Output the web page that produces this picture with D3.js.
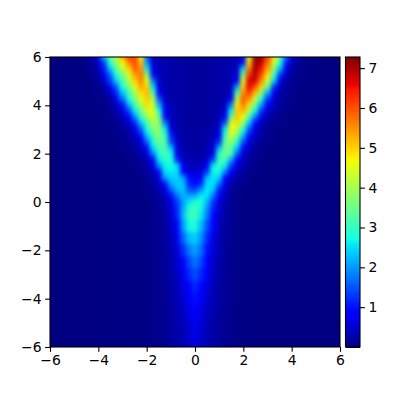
<!DOCTYPE html>
<html>
<head>
<meta charset="utf-8">
<script src="https://cdnjs.cloudflare.com/ajax/libs/d3/7.8.5/d3.min.js"></script>
<style>html,body{margin:0;padding:0;background:#fff}svg{display:block}text{font-family:"DejaVu Sans";font-size:13.9px;fill:#000}</style>
</head>
<body>
<svg id="c" width="400" height="400"></svg>
<script>
const xValues = d3.range(49).map(i => -6 + i * 0.25);
const yValues = [6,5.75,5.5,5.25,5,4.75,4.5,4.25,4,3.75,3.5,3.25,3,2.75,2.5,2.25,2,1.75,1.5,1.25,1,.75,.5,.25,0,-.25,-.5,-1,-1.5,-2,-2.5,-3,-3.5,-4,-4.5,-5,-5.5,-6];
const axisTicks = [-6,-4,-2,0,2,4,6];
const colorbarTicks = [1,2,3,4,5,6,7];
const colorMax = 7.28;
const rows = [
[0,0,0,0,.02,.03,.06,.3,.8, 2.2,3.25,4.2,5.3,6.1,6.1,4.7,1.6, .45,.33,.3,.27,.25,.22,.2,.2, .2,.2,.22,.24,.27,.3,.35,.55, 4.3,7,7.25,6.1,4.9,3.3,1.6,.5, .2,.1,.05,.03,.02,0,0,0],
[0,0,0,0,.02,.03,.05,.15,.4, 1.3,2.9,3.7,4.7,5.6,6.05,5.2,2, .5,.33,.3,.27,.25,.22,.2,.2, .2,.2,.22,.24,.27,.3,.37,1, 5,7.1,6.9,5.8,4.4,2.8,1.1,.35, .15,.08,.05,.03,.02,0,0,0],
[0,0,0,0,.02,.03,.05,.12,.3, 1.1,2.3,3.25,4.2,5,5.9,5.5,2.6, .65,.33,.3,.27,.24,.22,.2,.2, .2,.2,.22,.24,.27,.3,.4,2.5, 5.7,7.05,6.5,5.4,3.7,2.2,.7,.25, .12,.07,.04,.03,.02,0,0,0],
[0,0,0,0,.01,.02,.04,.08,.2, .75,1.55,2.75,3.6,4.5,5.4,5.7,3.8, 1,.4,.3,.26,.24,.22,.2,.2, .2,.2,.22,.24,.27,.35,.55,3.6, 6.3,6.95,6.1,4.9,3.1,1.3,.4,.18, .1,.06,.04,.02,.01,0,0,0],
[0,0,0,0,.01,.02,.03,.06,.15, .45,1.3,2.3,3.2,4.1,5,5.6,4.5, 1.8,.45,.3,.26,.24,.22,.2,.2, .2,.2,.22,.24,.27,.35,.9,4.4, 6.7,6.7,5.6,4.3,2.4,.65,.25,.12, .07,.05,.03,.02,.01,0,0,0],
[0,0,0,0,.01,.02,.03,.05,.1, .25,.75,1.55,2.75,3.7,4.5,5.35,5, 2.5,.6,.3,.26,.24,.22,.2,.2, .2,.2,.22,.24,.27,.4,2.1,5.1, 6.6,6,5,3.4,1.2,.4,.2,.1, .06,.04,.03,.02,.01,0,0,0],
[0,0,0,0,.01,.02,.03,.04,.08, .15,.4,1.15,2.25,3.1,4,4.9,5.2, 3.3,.8,.32,.26,.24,.22,.2,.2, .2,.2,.22,.23,.25,.45,3.2,5.5, 6.2,5.2,3.9,2.1,.7,.3,.14,.08, .05,.03,.02,.01,0,0,0,0],
[0,0,0,0,.01,.02,.02,.03,.06, .1,.22,.6,1.7,2.75,3.6,4.5,5.05, 4,1.5,.4,.27,.24,.22,.2,.2, .2,.2,.22,.23,.25,.8,4.1,5.9, 5.5,4.3,2.9,1.3,.45,.2,.1,.06, .04,.03,.02,.01,0,0,0,0],
[0,0,0,0,.01,.02,.02,.03,.05, .08,.15,.4,1,2.2,3.15,4,4.9, 4.3,2.2,.65,.33,.26,.22,.2,.2, .2,.2,.22,.26,.4,1.8,4.8,5.7, 4.9,3.5,2.1,.9,.4,.2,.1,.06, .03,.02,.01,0,0,0,0,0],
[0,0,0,0,.01,.02,.02,.03,.04, .06,.12,.25,.6,1.4,2.6,3.5,4.4, 4.5,2.8,.8,.35,.26,.22,.2,.2, .2,.2,.22,.28,.6,2.6,5.1,5.2, 4,2.7,1.3,.5,.25,.13,.07,.04, .02,.01,.01,0,0,0,0,0],
[0,0,0,0,.01,.02,.02,.03,.04, .05,.08,.16,.36,.8,1.9,2.95,3.8, 4.45,3.4,1,.36,.26,.22,.2,.2, .2,.2,.23,.33,.85,3.3,5.1,4.6, 3.2,1.8,.7,.33,.16,.09,.05,.03, .02,.01,0,0,0,0,0,0],
[0,0,0,0,0,.01,.02,.02,.03, .05,.07,.12,.22,.5,1.15,2.35,3.2, 4.05,3.7,1.8,.45,.28,.22,.2,.2, .2,.2,.25,.42,1.5,4.4,4.9,3.9, 2.3,.95,.4,.2,.1,.06,.04,.02, .01,.01,0,0,0,0,0,0],
[0,0,0,0,0,.01,.02,.02,.03, .04,.05,.09,.15,.32,.65,1.55,2.75, 3.6,3.85,2.6,.6,.3,.22,.2,.2, .2,.22,.3,.5,2.6,4.7,4.2,2.9, 1.5,.6,.27,.14,.08,.05,.03,.01, .01,0,0,0,0,0,0,0],
[0,0,0,0,0,.01,.02,.02,.03, .03,.04,.06,.11,.2,.4,.95,2.3, 3.1,3.75,3,1.2,.4,.25,.2,.2, .2,.24,.35,.7,3,4.4,3.5,2.2, .95,.4,.2,.1,.06,.03,.02,.01, 0,0,0,0,0,0,0,0],
[0,0,0,0,0,.01,.01,.02,.03, .03,.04,.05,.08,.14,.28,.6,1.6, 2.8,3.5,3.2,1.4,.48,.28,.22,.2, .22,.26,.42,1.2,3.3,3.9,2.9,1.5, .6,.27,.14,.08,.05,.02,.01,.01, 0,0,0,0,0,0,0,0],
[0,0,0,0,0,.01,.01,.02,.02, .03,.03,.04,.07,.1,.2,.42,.95, 2.5,3.1,3.2,2.3,.6,.3,.22,.2, .22,.3,.55,2.2,3.6,3.3,2.3,.9, .4,.2,.1,.06,.03,.02,.01,0, 0,0,0,0,0,0,0,0],
[0,0,0,0,0,.01,.01,.02,.02, .02,.03,.04,.05,.08,.13,.26,.55, 1.75,2.8,3.2,2.7,.7,.35,.25,.22, .24,.36,.7,2.9,3.5,3.2,1.6,.55, .27,.13,.07,.04,.02,.01,.01,0, 0,0,0,0,0,0,0,0],
[0,0,0,0,0,.01,.01,.02,.02, .02,.03,.03,.04,.06,.1,.18,.35, .9,2.55,2.9,2.8,1.2,.45,.3,.27, .3,.45,1.4,3,3.2,2.1,.9,.4, .2,.1,.05,.03,.02,.01,0,0, 0,0,0,0,0,0,0,0],
[0,0,0,0,0,.01,.01,.01,.02, .02,.03,.03,.04,.05,.07,.12,.25, .55,1.85,2.65,2.75,2.5,.7,.42,.36, .42,.75,2.6,3.05,2.6,1.3,.6,.28, .14,.07,.03,.02,.01,.01,0,0, 0,0,0,0,0,0,0,0],
[0,0,0,0,0,.01,.01,.01,.02, .02,.02,.03,.03,.04,.05,.08,.17, .4,.95,2.5,2.6,2.5,.8,.55,.5, .6,1.3,2.7,2.7,1.8,.75,.4,.2, .1,.05,.02,.01,.01,0,0,0, 0,0,0,0,0,0,0,0],
[0,0,0,0,0,.01,.01,.01,.02, .02,.02,.03,.03,.04,.04,.06,.12, .28,.55,2,2.35,2.4,2.1,.95,.75, .95,2.3,2.55,2.4,.9,.42,.22,.12, .06,.03,.02,.01,.01,0,0,0, 0,0,0,0,0,0,0,0],
[0,0,0,0,0,.01,.01,.01,.02, .02,.02,.03,.03,.03,.04,.05,.1, .2,.42,.95,2.1,2.35,2.3,1.2,.95, 1.2,2.5,2.55,1.7,.65,.3,.15,.08, .04,.02,.01,.01,0,0,0,0, 0,0,0,0,0,0,0,0],
[0,0,0,0,0,.01,.01,.01,.02, .02,.02,.02,.03,.03,.04,.04,.07, .14,.28,.6,1.5,2.2,2.3,1.5,1.4, 2,2.6,2.3,1.1,.48,.22,.1,.06, .03,.02,.01,.01,0,0,0,0, 0,0,0,0,0,0,0,0],
[0,0,0,0,0,.01,.01,.01,.02, .02,.02,.02,.03,.03,.04,.04,.06, .12,.2,.42,.95,1.7,2.2,2.1,2.2, 2.6,2.55,1.75,.85,.35,.16,.08,.05, .03,.02,.01,.01,0,0,0,0, 0,0,0,0,0,0,0,0],
[0,0,0,0,0,.01,.01,.01,.02, .02,.02,.02,.03,.03,.03,.04,.05, .09,.15,.3,.65,1.3,2,2.55,2.9, 2.8,2.2,1.3,.6,.28,.14,.07,.04, .03,.02,.01,.01,0,0,0,0, 0,0,0,0,0,0,0,0],
[0,0,0,0,0,.01,.01,.01,.02, .02,.02,.02,.03,.03,.03,.04,.05, .09,.14,.25,.55,1.2,2.1,2.85,3.05, 2.7,2,1.15,.55,.25,.12,.07,.04, .03,.02,.01,.01,0,0,0,0, 0,0,0,0,0,0,0,0],
[0,0,0,0,0,.01,.01,.01,.02, .02,.02,.02,.03,.03,.03,.04,.05, .08,.13,.22,.5,1.1,2.2,3,3.1, 2.6,1.8,.95,.48,.22,.12,.07,.04, .03,.02,.01,.01,0,0,0,0, 0,0,0,0,0,0,0,0],
[0,0,0,0,0,.01,.01,.01,.02, .02,.02,.02,.03,.03,.03,.04,.05, .07,.11,.19,.42,.85,2,2.7,2.8, 2.25,1.5,.8,.4,.19,.11,.06,.04, .03,.02,.01,.01,0,0,0,0, 0,0,0,0,0,0,0,0],
[0,0,0,0,0,.01,.01,.01,.02, .02,.02,.02,.03,.03,.03,.04,.05, .07,.11,.18,.32,.7,1.6,2.25,2.4, 1.95,1.2,.65,.32,.18,.11,.06,.04, .03,.02,.01,.01,0,0,0,0, 0,0,0,0,0,0,0,0],
[0,0,0,0,0,.01,.01,.01,.02, .02,.02,.02,.03,.03,.03,.04,.05, .07,.11,.18,.3,.55,1.2,1.8,2.05, 1.7,1,.55,.3,.18,.1,.06,.04, .03,.02,.01,.01,0,0,0,0, 0,0,0,0,0,0,0,0],
[0,0,0,0,0,.01,.01,.01,.02, .02,.02,.02,.03,.03,.03,.04,.05, .07,.1,.17,.27,.48,.9,1.4,1.75, 1.4,.85,.48,.27,.17,.1,.06,.04, .03,.02,.01,.01,0,0,0,0, 0,0,0,0,0,0,0,0],
[0,0,0,0,0,.01,.01,.01,.02, .02,.02,.02,.03,.03,.03,.04,.05, .07,.1,.16,.25,.42,.72,1.15,1.45, 1.15,.72,.42,.25,.16,.1,.06,.04, .03,.02,.01,.01,0,0,0,0, 0,0,0,0,0,0,0,0],
[0,0,0,0,0,.01,.01,.01,.02, .02,.02,.02,.03,.03,.03,.04,.05, .07,.1,.15,.23,.36,.58,.92,1.18, .92,.58,.36,.23,.15,.1,.06,.04, .03,.02,.01,.01,0,0,0,0, 0,0,0,0,0,0,0,0],
[0,0,0,0,0,.01,.01,.01,.02, .02,.02,.02,.03,.03,.03,.04,.05, .07,.1,.15,.22,.32,.5,.75,.98, .75,.5,.32,.22,.15,.1,.06,.04, .03,.02,.01,.01,0,0,0,0, 0,0,0,0,0,0,0,0],
[0,0,0,0,0,.01,.01,.01,.02, .02,.02,.02,.03,.03,.03,.04,.05, .06,.09,.14,.2,.3,.42,.63,.82, .63,.42,.3,.2,.14,.09,.05,.04, .03,.02,.01,.01,0,0,0,0, 0,0,0,0,0,0,0,0],
[0,0,0,0,0,.01,.01,.01,.02, .02,.02,.02,.03,.03,.03,.04,.05, .06,.08,.12,.18,.27,.37,.55,.72, .55,.37,.27,.18,.12,.08,.05,.04, .03,.02,.01,.01,0,0,0,0, 0,0,0,0,0,0,0,0],
[0,0,0,0,0,.01,.01,.01,.02, .02,.02,.02,.03,.03,.03,.04,.05, .06,.08,.12,.18,.26,.33,.49,.63, .49,.33,.26,.18,.12,.08,.05,.04, .03,.02,.01,.01,0,0,0,0, 0,0,0,0,0,0,0,0],
[0,0,0,0,0,.01,.01,.01,.02, .02,.02,.02,.03,.03,.03,.04,.05, .06,.08,.12,.18,.25,.31,.44,.56, .44,.31,.25,.18,.12,.08,.05,.04, .03,.02,.01,.01,0,0,0,0, 0,0,0,0,0,0,0,0]
];

const plot = {l:50, r:340, t:57, b:347};
const bar = {l:345.5, r:360};
const svg = d3.select('#c');
const x = d3.scaleLinear().domain([-6,6]).range([plot.l, plot.r]);
const y = d3.scaleLinear().domain([-6,6]).range([plot.b, plot.t]);
const cb = d3.scaleLinear().domain([0,colorMax]).range([plot.b, plot.t]);

const red = d3.scaleLinear().domain([0,.35,.66,.89,1]).range([0,0,1,1,.5]);
const green = d3.scaleLinear().domain([0,.125,.375,.64,.91,1]).range([0,0,1,1,0,0]);
const blue = d3.scaleLinear().domain([0,.11,.34,.65,1]).range([.5,1,1,0,0]);
const jet = t => { t = Math.max(0, Math.min(1, t)); return d3.rgb(red(t)*255, green(t)*255, blue(t)*255).formatRgb(); };
const color = d3.scaleSequential(jet).domain([0,colorMax]);

const defs = svg.append('defs');
defs.append('clipPath').attr('id','plotClip').append('rect')
  .attr('x',plot.l).attr('y',plot.t).attr('width',plot.r-plot.l).attr('height',plot.b-plot.t);
const f = defs.append('filter').attr('id','smooth').attr('filterUnits','userSpaceOnUse')
  .attr('x',0).attr('y',0).attr('width',400).attr('height',400)
  .attr('color-interpolation-filters','sRGB');
f.append('feGaussianBlur').attr('stdDeviation','2.2 2.8');

const pad = 30;
const midX = i => x(xValues[i]);
const midY = j => y(yValues[j]);
const x0 = i => i === 0 ? midX(0) - pad : (midX(i-1) + midX(i)) / 2;
const x1 = i => i === xValues.length-1 ? midX(i) + pad : (midX(i) + midX(i+1)) / 2;
const y0 = j => j === 0 ? midY(0) - pad : (midY(j-1) + midY(j)) / 2;
const y1 = j => j === yValues.length-1 ? midY(j) + pad : (midY(j) + midY(j+1)) / 2;

const cells = [];
rows.forEach((r,j) => r.forEach((v,i) => cells.push({i,j,v})));
const heat = svg.append('g').attr('clip-path','url(#plotClip)').append('g').attr('filter','url(#smooth)');
heat.selectAll('rect').data(cells).join('rect')
  .attr('x', d => x0(d.i)).attr('width', d => x1(d.i) - x0(d.i) + 0.5)
  .attr('y', d => y0(d.j)).attr('height', d => y1(d.j) - y0(d.j) + 0.5)
  .attr('shape-rendering','crispEdges')
  .attr('fill', d => color(d.v));

const gx = svg.append('g').attr('transform',`translate(0,${plot.b})`)
  .call(d3.axisBottom(x).tickValues(axisTicks).tickSize(4.86).tickPadding(3.6).tickFormat(d => String(d).replace('-','\u2212')));
const gy = svg.append('g').attr('transform',`translate(${plot.l},0)`)
  .call(d3.axisLeft(y).tickValues(axisTicks).tickSize(4.86).tickPadding(3.6).tickFormat(d => String(d).replace('-','\u2212')));
[gx,gy].forEach(g => { g.select('.domain').remove(); g.selectAll('line').attr('stroke','#000').attr('stroke-width',1.1); });
svg.append('rect').attr('x',plot.l).attr('y',plot.t).attr('width',plot.r-plot.l).attr('height',plot.b-plot.t)
  .attr('fill','none').attr('stroke','#000').attr('stroke-width',1.1);

const barSteps = d3.range(256);
svg.append('g').selectAll('rect').data(barSteps).join('rect')
  .attr('x',bar.l).attr('width',bar.r-bar.l)
  .attr('y', d => cb((d+1)/256*colorMax))
  .attr('height', (plot.b-plot.t)/256+0.5)
  .attr('shape-rendering','crispEdges')
  .attr('fill', d => jet((d+.5)/256));
const gc = svg.append('g').attr('transform',`translate(${bar.r},0)`)
  .call(d3.axisRight(cb).tickValues(colorbarTicks).tickSize(4.86).tickPadding(3.6).tickFormat(d3.format('d')));
gc.select('.domain').remove();
gc.selectAll('line').attr('stroke','#000').attr('stroke-width',1.1);
svg.append('rect').attr('x',bar.l).attr('y',plot.t).attr('width',bar.r-bar.l).attr('height',plot.b-plot.t)
  .attr('fill','none').attr('stroke','#000').attr('stroke-width',1.1);

svg.selectAll('.tick text').attr('font-family','DejaVu Sans').attr('font-size','13.9px').attr('fill','#000');
</script>
</body>
</html>
